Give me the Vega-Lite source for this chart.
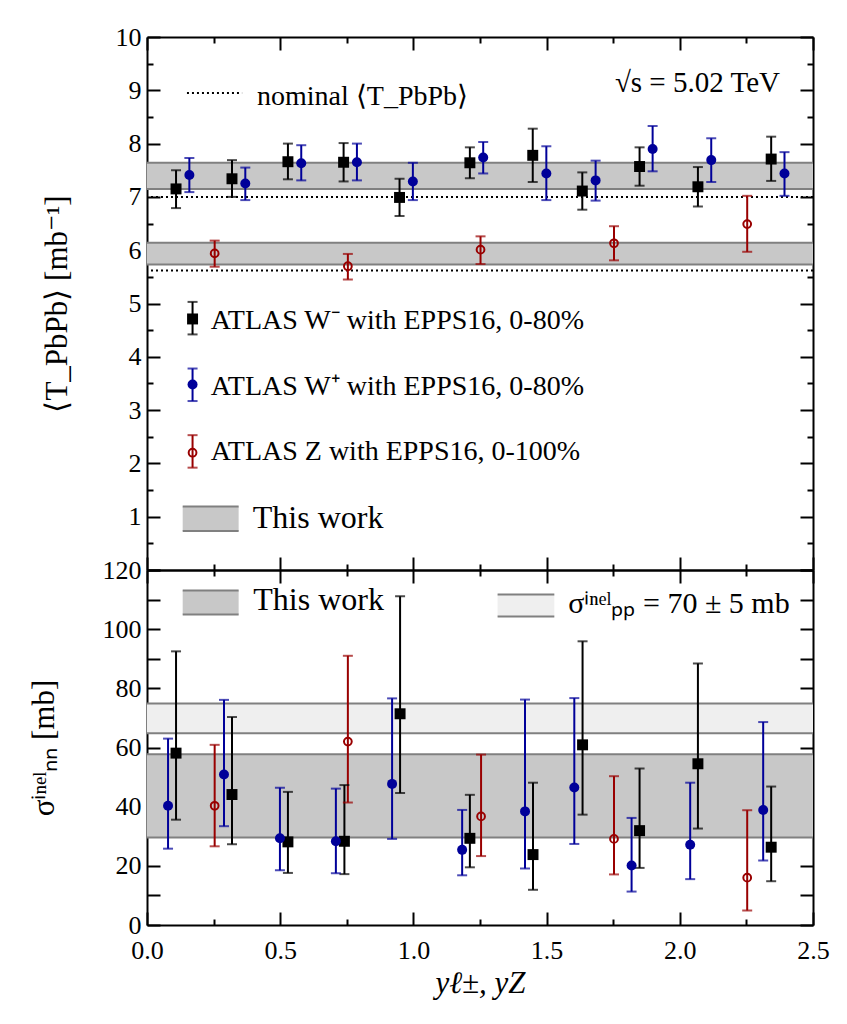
{
  "$schema": "https://vega.github.io/schema/vega-lite/v6.json",
  "background": "white",
  "padding": {"left": 28, "top": 24, "right": 30, "bottom": 10},
  "spacing": 0,
  "bounds": "flush",
  "config": {
    "view": {"stroke": null},
    "font": "Liberation Serif",
    "axis": {
      "labelFont": "Liberation Serif", "labelFontSize": 26, "labelColor": "black",
      "titleFont": "Liberation Serif", "titleFontSize": 31, "titleFontWeight": "normal", "titleColor": "black",
      "domainColor": "black", "domainWidth": 2, "tickColor": "black", "tickWidth": 2,
      "grid": false, "labelFlush": false, "labelOverlap": false
    },
    "text": {"font": "Liberation Serif", "color": "black"}
  },
  "datasets": {
    "pts": [
      {"panel": "T", "s": "Wm", "x": 0.109, "y": 7.15, "lo": 6.79, "hi": 7.50},
      {"panel": "T", "s": "Wm", "x": 0.319, "y": 7.34, "lo": 7.00, "hi": 7.69},
      {"panel": "T", "s": "Wm", "x": 0.529, "y": 7.66, "lo": 7.33, "hi": 8.00},
      {"panel": "T", "s": "Wm", "x": 0.738, "y": 7.65, "lo": 7.29, "hi": 8.01},
      {"panel": "T", "s": "Wm", "x": 0.948, "y": 6.99, "lo": 6.64, "hi": 7.34},
      {"panel": "T", "s": "Wm", "x": 1.212, "y": 7.64, "lo": 7.35, "hi": 7.93},
      {"panel": "T", "s": "Wm", "x": 1.448, "y": 7.78, "lo": 7.28, "hi": 8.28},
      {"panel": "T", "s": "Wm", "x": 1.634, "y": 7.11, "lo": 6.76, "hi": 7.46},
      {"panel": "T", "s": "Wm", "x": 1.849, "y": 7.57, "lo": 7.21, "hi": 7.93},
      {"panel": "T", "s": "Wm", "x": 2.068, "y": 7.19, "lo": 6.82, "hi": 7.56},
      {"panel": "T", "s": "Wm", "x": 2.343, "y": 7.71, "lo": 7.30, "hi": 8.13},
      {"panel": "T", "s": "Wp", "x": 0.159, "y": 7.41, "lo": 7.09, "hi": 7.73},
      {"panel": "T", "s": "Wp", "x": 0.369, "y": 7.25, "lo": 6.94, "hi": 7.55},
      {"panel": "T", "s": "Wp", "x": 0.579, "y": 7.63, "lo": 7.31, "hi": 7.97},
      {"panel": "T", "s": "Wp", "x": 0.788, "y": 7.65, "lo": 7.31, "hi": 8.00},
      {"panel": "T", "s": "Wp", "x": 0.998, "y": 7.29, "lo": 6.94, "hi": 7.64},
      {"panel": "T", "s": "Wp", "x": 1.262, "y": 7.74, "lo": 7.44, "hi": 8.03},
      {"panel": "T", "s": "Wp", "x": 1.499, "y": 7.44, "lo": 6.94, "hi": 7.95},
      {"panel": "T", "s": "Wp", "x": 1.684, "y": 7.31, "lo": 6.93, "hi": 7.68},
      {"panel": "T", "s": "Wp", "x": 1.898, "y": 7.90, "lo": 7.48, "hi": 8.33},
      {"panel": "T", "s": "Wp", "x": 2.118, "y": 7.69, "lo": 7.28, "hi": 8.10},
      {"panel": "T", "s": "Wp", "x": 2.393, "y": 7.44, "lo": 7.02, "hi": 7.84},
      {"panel": "T", "s": "Z", "x": 0.254, "y": 5.94, "lo": 5.69, "hi": 6.18},
      {"panel": "T", "s": "Z", "x": 0.754, "y": 5.70, "lo": 5.45, "hi": 5.93},
      {"panel": "T", "s": "Z", "x": 1.252, "y": 6.01, "lo": 5.74, "hi": 6.26},
      {"panel": "T", "s": "Z", "x": 1.753, "y": 6.13, "lo": 5.81, "hi": 6.45},
      {"panel": "T", "s": "Z", "x": 2.253, "y": 6.49, "lo": 5.97, "hi": 7.02},
      {"panel": "T", "s": "Wm", "x": 0.171, "y": 4.71, "lo": 4.42, "hi": 5.03},
      {"panel": "T", "s": "Wp", "x": 0.171, "y": 3.48, "lo": 3.17, "hi": 3.78},
      {"panel": "T", "s": "Z", "x": 0.171, "y": 2.20, "lo": 1.92, "hi": 2.53},
      {"panel": "S", "s": "Wm", "x": 0.109, "y": 58.1, "lo": 35.6, "hi": 92.5},
      {"panel": "S", "s": "Wm", "x": 0.319, "y": 44.1, "lo": 27.3, "hi": 70.3},
      {"panel": "S", "s": "Wm", "x": 0.529, "y": 28.1, "lo": 17.6, "hi": 45.0},
      {"panel": "S", "s": "Wm", "x": 0.741, "y": 28.3, "lo": 17.2, "hi": 47.3},
      {"panel": "S", "s": "Wm", "x": 0.950, "y": 71.4, "lo": 44.6, "hi": 111.1},
      {"panel": "S", "s": "Wm", "x": 1.212, "y": 29.3, "lo": 19.5, "hi": 44.0},
      {"panel": "S", "s": "Wm", "x": 1.449, "y": 23.8, "lo": 11.9, "hi": 48.1},
      {"panel": "S", "s": "Wm", "x": 1.635, "y": 60.9, "lo": 37.3, "hi": 95.9},
      {"panel": "S", "s": "Wm", "x": 1.849, "y": 31.9, "lo": 19.3, "hi": 52.9},
      {"panel": "S", "s": "Wm", "x": 2.068, "y": 54.5, "lo": 32.6, "hi": 88.4},
      {"panel": "S", "s": "Wm", "x": 2.343, "y": 26.3, "lo": 14.8, "hi": 46.8},
      {"panel": "S", "s": "Wp", "x": 0.079, "y": 40.3, "lo": 25.8, "hi": 63.0},
      {"panel": "S", "s": "Wp", "x": 0.289, "y": 50.9, "lo": 33.4, "hi": 76.1},
      {"panel": "S", "s": "Wp", "x": 0.499, "y": 29.3, "lo": 18.5, "hi": 46.4},
      {"panel": "S", "s": "Wp", "x": 0.709, "y": 28.3, "lo": 17.5, "hi": 46.1},
      {"panel": "S", "s": "Wp", "x": 0.920, "y": 47.7, "lo": 29.1, "hi": 76.6},
      {"panel": "S", "s": "Wp", "x": 1.183, "y": 25.4, "lo": 16.8, "hi": 38.9},
      {"panel": "S", "s": "Wp", "x": 1.419, "y": 38.4, "lo": 19.1, "hi": 76.2},
      {"panel": "S", "s": "Wp", "x": 1.604, "y": 46.5, "lo": 27.4, "hi": 76.7},
      {"panel": "S", "s": "Wp", "x": 1.819, "y": 20.1, "lo": 11.3, "hi": 36.2},
      {"panel": "S", "s": "Wp", "x": 2.039, "y": 27.1, "lo": 15.5, "hi": 48.1},
      {"panel": "S", "s": "Wp", "x": 2.313, "y": 38.9, "lo": 21.8, "hi": 68.6},
      {"panel": "S", "s": "Z", "x": 0.254, "y": 40.3, "lo": 26.6, "hi": 60.9},
      {"panel": "S", "s": "Z", "x": 0.754, "y": 62.0, "lo": 41.4, "hi": 91.0},
      {"panel": "S", "s": "Z", "x": 1.254, "y": 36.7, "lo": 23.3, "hi": 57.6},
      {"panel": "S", "s": "Z", "x": 1.753, "y": 29.1, "lo": 17.1, "hi": 50.3},
      {"panel": "S", "s": "Z", "x": 2.253, "y": 16.0, "lo": 4.9, "hi": 38.8}
    ],
    "bands": [
      {"panel": "T", "kind": "work", "lo": 7.15, "hi": 7.64},
      {"panel": "T", "kind": "work", "lo": 5.73, "hi": 6.14},
      {"panel": "S", "kind": "work", "lo": 29.6, "hi": 57.7},
      {"panel": "S", "kind": "pp", "lo": 64.8, "hi": 74.9}
    ],
    "legboxes": [
      {"panel": "T", "kind": "work", "x1": 0.134, "x2": 0.344, "lo": 0.73, "hi": 1.19},
      {"panel": "S", "kind": "work", "x1": 0.134, "x2": 0.344, "lo": 105.0, "hi": 113.1},
      {"panel": "S", "kind": "pp", "x1": 1.316, "x2": 1.529, "lo": 104.3, "hi": 111.7}
    ],
    "nominal": [{"y": 7.0}, {"y": 5.62}],
    "nomleg": [{"x1": 0.150, "x2": 0.357, "y": 8.95}],
    "texts": [
      {"panel": "T", "kind": "entry", "x": 0.239, "y": 4.67, "text": "ATLAS W⁻ with EPPS16, 0-80%"},
      {"panel": "T", "kind": "entry", "x": 0.239, "y": 3.43, "text": "ATLAS W⁺ with EPPS16, 0-80%"},
      {"panel": "T", "kind": "entry", "x": 0.239, "y": 2.21, "text": "ATLAS Z with EPPS16, 0-100%"},
      {"panel": "T", "kind": "big", "x": 0.397, "y": 0.97, "text": "This work"},
      {"panel": "T", "kind": "nom", "x": 0.413, "y": 8.88, "text": "nominal ⟨T_PbPb⟩"},
      {"panel": "S", "kind": "big", "x": 0.399, "y": 109.7, "text": "This work"},
      {"panel": "S", "kind": "pp", "x": 1.581, "y": 108.4, "text": "σⁱⁿᵉˡₚₚ = 70 ± 5 mb"}
    ],
    "energy": [{"x": 2.376, "y": 9.14, "text": "√s = 5.02 TeV"}]
  },
  "vconcat": [
    {
      "width": 666,
      "height": 533,
      "resolve": {"axis": {"x": "independent", "y": "independent"}},
      "layer": [
        {
          "data": {"name": "bands"},
          "transform": [{"filter": "datum.panel === 'T'"}],
          "mark": {"type": "rect"},
          "encoding": {
            "x": {"datum": 0, "type": "quantitative", "scale": {"domain": [0, 2.5], "nice": false}, "axis": null},
            "x2": {"datum": 2.5},
            "y": {"field": "lo", "type": "quantitative", "scale": {"domain": [0, 10], "nice": false}, "axis": null},
            "y2": {"field": "hi"},
            "fill": {"field": "kind", "type": "nominal", "scale": {"domain": ["work", "pp"], "range": ["#c8c8c8", "#efefef"]}, "legend": null}
          }
        },
        {
          "data": {"name": "bands"},
          "transform": [{"filter": "datum.panel === 'T'"}, {"fold": ["lo", "hi"], "as": ["k", "v"]}],
          "mark": {"type": "rule", "color": "#808080", "strokeWidth": 2},
          "encoding": {"y": {"field": "v", "type": "quantitative", "axis": null}}
        },
        {
          "data": {"name": "nominal"},
          "mark": {"type": "rule", "color": "black", "strokeWidth": 2, "strokeDash": [2, 3]},
          "encoding": {"y": {"field": "y", "type": "quantitative", "axis": null}}
        },
        {
          "data": {"name": "nomleg"},
          "mark": {"type": "rule", "color": "black", "strokeWidth": 2, "strokeDash": [2, 3]},
          "encoding": {
            "x": {"field": "x1", "type": "quantitative", "axis": null},
            "x2": {"field": "x2"},
            "y": {"field": "y", "type": "quantitative", "axis": null}
          }
        },
        {
          "data": {"name": "legboxes"},
          "transform": [{"filter": "datum.panel === 'T'"}],
          "mark": {"type": "rect"},
          "encoding": {
            "x": {"field": "x1", "type": "quantitative", "axis": null},
            "x2": {"field": "x2"},
            "y": {"field": "lo", "type": "quantitative", "axis": null},
            "y2": {"field": "hi"},
            "fill": {"field": "kind", "type": "nominal", "scale": {"domain": ["work", "pp"], "range": ["#c8c8c8", "#efefef"]}, "legend": null}
          }
        },
        {
          "data": {"name": "legboxes"},
          "transform": [{"filter": "datum.panel === 'T'"}, {"fold": ["lo", "hi"], "as": ["k", "v"]}],
          "mark": {"type": "rule", "color": "#808080", "strokeWidth": 2},
          "encoding": {
            "x": {"field": "x1", "type": "quantitative", "axis": null},
            "x2": {"field": "x2"},
            "y": {"field": "v", "type": "quantitative", "axis": null}
          }
        },
        {
          "data": {"name": "pts"},
          "transform": [{"filter": "datum.panel === 'T'"}],
          "mark": {"type": "rule", "strokeWidth": 2},
          "encoding": {
            "x": {"field": "x", "type": "quantitative",
              "axis": {"orient": "bottom", "title": null, "labels": false,
                "values": [0, 0.25, 0.5, 0.75, 1, 1.25, 1.5, 1.75, 2, 2.25, 2.5],
                "tickSize": {"condition": {"test": "(datum.value * 2) % 1 !== 0", "value": -6}, "value": -13}}},
            "y": {"field": "lo", "type": "quantitative",
              "axis": {"orient": "left", "title": "⟨T_PbPb⟩ [mb⁻¹]", "titlePadding": 42, "labelPadding": 19,
                "values": [0, 0.5, 1, 1.5, 2, 2.5, 3, 3.5, 4, 4.5, 5, 5.5, 6, 6.5, 7, 7.5, 8, 8.5, 9, 9.5, 10],
                "labelExpr": "datum.value > 0 && datum.value % 1 === 0 ? format(datum.value, 'd') : ''",
                "tickSize": {"condition": {"test": "datum.value % 1 !== 0", "value": -6}, "value": -13}}},
            "y2": {"field": "hi"},
            "color": {"field": "s", "type": "nominal", "scale": {"domain": ["Wm", "Wp", "Z"], "range": ["#000000", "#000099", "#990000"]}, "legend": null}
          }
        },
        {
          "data": {"name": "pts"},
          "transform": [{"filter": "datum.panel === 'T'"}, {"fold": ["lo", "hi"], "as": ["k", "v"]}],
          "mark": {"type": "tick", "orient": "horizontal", "thickness": 2, "size": 10},
          "encoding": {
            "x": {"field": "x", "type": "quantitative",
              "axis": {"orient": "top", "title": null, "labels": false,
                "values": [0, 0.25, 0.5, 0.75, 1, 1.25, 1.5, 1.75, 2, 2.25, 2.5],
                "tickSize": {"condition": {"test": "(datum.value * 2) % 1 !== 0", "value": -6}, "value": -13}}},
            "y": {"field": "v", "type": "quantitative",
              "axis": {"orient": "right", "title": null, "labels": false,
                "values": [0, 0.5, 1, 1.5, 2, 2.5, 3, 3.5, 4, 4.5, 5, 5.5, 6, 6.5, 7, 7.5, 8, 8.5, 9, 9.5, 10],
                "tickSize": {"condition": {"test": "datum.value % 1 !== 0", "value": -6}, "value": -13}}},
            "color": {"field": "s", "type": "nominal", "legend": null}
          }
        },
        {
          "data": {"name": "pts"},
          "transform": [{"filter": "datum.panel === 'T' && datum.s !== 'Z'"}],
          "mark": {"type": "point", "filled": true, "opacity": 1},
          "encoding": {
            "x": {"field": "x", "type": "quantitative", "axis": null},
            "y": {"field": "y", "type": "quantitative", "axis": null},
            "shape": {"field": "s", "type": "nominal", "scale": {"domain": ["Wm", "Wp"], "range": ["square", "circle"]}, "legend": null},
            "size": {"field": "s", "type": "nominal", "scale": {"domain": ["Wm", "Wp"], "range": [120, 100]}, "legend": null},
            "color": {"field": "s", "type": "nominal", "legend": null}
          }
        },
        {
          "data": {"name": "pts"},
          "transform": [{"filter": "datum.panel === 'T' && datum.s === 'Z'"}],
          "mark": {"type": "point", "shape": "circle", "filled": false, "strokeWidth": 2, "size": 60, "opacity": 1},
          "encoding": {
            "x": {"field": "x", "type": "quantitative", "axis": null},
            "y": {"field": "y", "type": "quantitative", "axis": null},
            "color": {"field": "s", "type": "nominal", "legend": null}
          }
        },
        {
          "data": {"name": "texts"},
          "transform": [{"filter": "datum.panel === 'T' && datum.kind === 'entry'"}],
          "mark": {"type": "text", "align": "left", "baseline": "middle", "fontSize": 28},
          "encoding": {
            "x": {"field": "x", "type": "quantitative", "axis": null},
            "y": {"field": "y", "type": "quantitative", "axis": null},
            "text": {"field": "text"}
          }
        },
        {
          "data": {"name": "texts"},
          "transform": [{"filter": "datum.panel === 'T' && datum.kind === 'big'"}],
          "mark": {"type": "text", "align": "left", "baseline": "middle", "fontSize": 32},
          "encoding": {
            "x": {"field": "x", "type": "quantitative", "axis": null},
            "y": {"field": "y", "type": "quantitative", "axis": null},
            "text": {"field": "text"}
          }
        },
        {
          "data": {"name": "texts"},
          "transform": [{"filter": "datum.panel === 'T' && datum.kind === 'nom'"}],
          "mark": {"type": "text", "align": "left", "baseline": "middle", "fontSize": 28},
          "encoding": {
            "x": {"field": "x", "type": "quantitative", "axis": null},
            "y": {"field": "y", "type": "quantitative", "axis": null},
            "text": {"field": "text"}
          }
        },
        {
          "data": {"name": "energy"},
          "mark": {"type": "text", "align": "right", "baseline": "middle", "fontSize": 29},
          "encoding": {
            "x": {"field": "x", "type": "quantitative", "axis": null},
            "y": {"field": "y", "type": "quantitative", "axis": null},
            "text": {"field": "text"}
          }
        }
      ]
    },
    {
      "width": 666,
      "height": 355,
      "resolve": {"axis": {"x": "independent", "y": "independent"}},
      "layer": [
        {
          "data": {"name": "bands"},
          "transform": [{"filter": "datum.panel === 'S'"}],
          "mark": {"type": "rect"},
          "encoding": {
            "x": {"datum": 0, "type": "quantitative", "scale": {"domain": [0, 2.5], "nice": false}, "axis": null},
            "x2": {"datum": 2.5},
            "y": {"field": "lo", "type": "quantitative", "scale": {"domain": [0, 120], "nice": false}, "axis": null},
            "y2": {"field": "hi"},
            "fill": {"field": "kind", "type": "nominal", "scale": {"domain": ["work", "pp"], "range": ["#c8c8c8", "#efefef"]}, "legend": null}
          }
        },
        {
          "data": {"name": "bands"},
          "transform": [{"filter": "datum.panel === 'S'"}, {"fold": ["lo", "hi"], "as": ["k", "v"]}],
          "mark": {"type": "rule", "color": "#808080", "strokeWidth": 2},
          "encoding": {"y": {"field": "v", "type": "quantitative", "axis": null}}
        },
        {
          "data": {"name": "legboxes"},
          "transform": [{"filter": "datum.panel === 'S'"}],
          "mark": {"type": "rect"},
          "encoding": {
            "x": {"field": "x1", "type": "quantitative", "axis": null},
            "x2": {"field": "x2"},
            "y": {"field": "lo", "type": "quantitative", "axis": null},
            "y2": {"field": "hi"},
            "fill": {"field": "kind", "type": "nominal", "scale": {"domain": ["work", "pp"], "range": ["#c8c8c8", "#efefef"]}, "legend": null}
          }
        },
        {
          "data": {"name": "legboxes"},
          "transform": [{"filter": "datum.panel === 'S'"}, {"fold": ["lo", "hi"], "as": ["k", "v"]}],
          "mark": {"type": "rule", "color": "#808080", "strokeWidth": 2},
          "encoding": {
            "x": {"field": "x1", "type": "quantitative", "axis": null},
            "x2": {"field": "x2"},
            "y": {"field": "v", "type": "quantitative", "axis": null}
          }
        },
        {
          "data": {"name": "pts"},
          "transform": [{"filter": "datum.panel === 'S'"}],
          "mark": {"type": "rule", "strokeWidth": 2},
          "encoding": {
            "x": {"field": "x", "type": "quantitative",
              "axis": {"orient": "bottom", "title": "yℓ±, yZ", "titleFontStyle": "italic", "titlePadding": -2, "labelPadding": 25,
                "values": [0, 0.25, 0.5, 0.75, 1, 1.25, 1.5, 1.75, 2, 2.25, 2.5],
                "labelExpr": "(datum.value * 2) % 1 === 0 ? format(datum.value, '.1f') : ''",
                "tickSize": {"condition": {"test": "(datum.value * 2) % 1 !== 0", "value": -6}, "value": -13}}},
            "y": {"field": "lo", "type": "quantitative",
              "axis": {"orient": "left", "title": "σⁱⁿᵉˡₙₙ [mb]", "titlePadding": 42, "labelPadding": 19,
                "values": [0, 10, 20, 30, 40, 50, 60, 70, 80, 90, 100, 110, 120],
                "labelExpr": "datum.value % 20 === 0 ? format(datum.value, 'd') : ''",
                "tickSize": -13}},
            "y2": {"field": "hi"},
            "color": {"field": "s", "type": "nominal", "scale": {"domain": ["Wm", "Wp", "Z"], "range": ["#000000", "#000099", "#990000"]}, "legend": null}
          }
        },
        {
          "data": {"name": "pts"},
          "transform": [{"filter": "datum.panel === 'S'"}, {"fold": ["lo", "hi"], "as": ["k", "v"]}],
          "mark": {"type": "tick", "orient": "horizontal", "thickness": 2, "size": 10},
          "encoding": {
            "x": {"field": "x", "type": "quantitative",
              "axis": {"orient": "top", "title": null, "labels": false,
                "values": [0, 0.25, 0.5, 0.75, 1, 1.25, 1.5, 1.75, 2, 2.25, 2.5],
                "tickSize": {"condition": {"test": "(datum.value * 2) % 1 !== 0", "value": -6}, "value": -13}}},
            "y": {"field": "v", "type": "quantitative",
              "axis": {"orient": "right", "title": null, "labels": false,
                "values": [0, 10, 20, 30, 40, 50, 60, 70, 80, 90, 100, 110, 120],
                "tickSize": -13}},
            "color": {"field": "s", "type": "nominal", "legend": null}
          }
        },
        {
          "data": {"name": "pts"},
          "transform": [{"filter": "datum.panel === 'S' && datum.s !== 'Z'"}],
          "mark": {"type": "point", "filled": true, "opacity": 1},
          "encoding": {
            "x": {"field": "x", "type": "quantitative", "axis": null},
            "y": {"field": "y", "type": "quantitative", "axis": null},
            "shape": {"field": "s", "type": "nominal", "scale": {"domain": ["Wm", "Wp"], "range": ["square", "circle"]}, "legend": null},
            "size": {"field": "s", "type": "nominal", "scale": {"domain": ["Wm", "Wp"], "range": [120, 100]}, "legend": null},
            "color": {"field": "s", "type": "nominal", "legend": null}
          }
        },
        {
          "data": {"name": "pts"},
          "transform": [{"filter": "datum.panel === 'S' && datum.s === 'Z'"}],
          "mark": {"type": "point", "shape": "circle", "filled": false, "strokeWidth": 2, "size": 60, "opacity": 1},
          "encoding": {
            "x": {"field": "x", "type": "quantitative", "axis": null},
            "y": {"field": "y", "type": "quantitative", "axis": null},
            "color": {"field": "s", "type": "nominal", "legend": null}
          }
        },
        {
          "data": {"name": "texts"},
          "transform": [{"filter": "datum.panel === 'S' && datum.kind === 'big'"}],
          "mark": {"type": "text", "align": "left", "baseline": "middle", "fontSize": 32},
          "encoding": {
            "x": {"field": "x", "type": "quantitative", "axis": null},
            "y": {"field": "y", "type": "quantitative", "axis": null},
            "text": {"field": "text"}
          }
        },
        {
          "data": {"name": "texts"},
          "transform": [{"filter": "datum.panel === 'S' && datum.kind === 'pp'"}],
          "mark": {"type": "text", "align": "left", "baseline": "middle", "fontSize": 30},
          "encoding": {
            "x": {"field": "x", "type": "quantitative", "axis": null},
            "y": {"field": "y", "type": "quantitative", "axis": null},
            "text": {"field": "text"}
          }
        }
      ]
    }
  ]
}
